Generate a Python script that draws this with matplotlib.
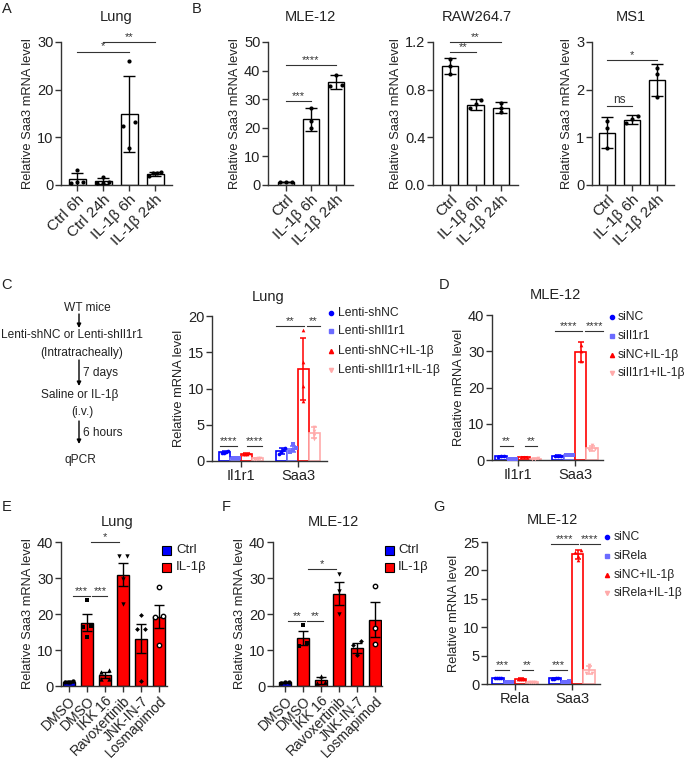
import numpy as np
import matplotlib
matplotlib.use("Agg")
import matplotlib.pyplot as plt

plt.rcParams['font.family'] = ['Liberation Sans', 'DejaVu Sans']

# ---------------- data ----------------
# Panel A (Lung)
a_cats = ['Ctrl 6h', 'Ctrl 24h', 'IL-1β 6h', 'IL-1β 24h']
a_mean = [1.2, 0.8, 14.9, 2.3]
a_sd = [1.4, 0.6, 7.9, 0.35]
a_pts = [[3.1, 0.6, 0.6, 0.5], [1.7, 0.7, 0.5, 0.4], [26.1, 13.2, 12.4, 7.7], [2.7, 2.5, 2.5, 1.9]]
a_sig = [(0, 2, 28.0, '*'), (1, 3, 29.9, '**')]

# Panel B
b_cats = ['Ctrl', 'IL-1β 6h', 'IL-1β 24h']
mle_mean = [1.0, 23.0, 36.0]
mle_sd = [0.1, 4.0, 2.5]
mle_pts = [[1.0, 1.0, 1.0], [26.8, 22.3, 20.0], [38.5, 35.0, 34.5]]
mle_sig = [(0, 1, 29.4, '***'), (0, 2, 41.9, '****')]

raw_mean = [1.0, 0.675, 0.65]
raw_sd = [0.065, 0.045, 0.045]
raw_pts = [[1.055, 0.995, 0.933], [0.71, 0.68, 0.645], [0.69, 0.65, 0.61]]
raw_sig = [(0, 1, 1.115, '**'), (0, 2, 1.196, '**')]

ms1_mean = [1.1, 1.37, 2.2]
ms1_sd = [0.32, 0.09, 0.33]
ms1_pts = [[1.35, 1.2, 0.78], [1.45, 1.38, 1.3], [2.45, 2.33, 1.84]]
ms1_sig = [(0, 1, 1.65, 'ns'), (0, 2, 2.62, '*')]

# Panel C (Lung, grouped)
c_groups = ['Il1r1', 'Saa3']
c_series = ['Lenti-shNC', 'Lenti-shIl1r1', 'Lenti-shNC+IL-1β', 'Lenti-shIl1r1+IL-1β']
c_mean = [[1.2, 1.4], [0.4, 1.7], [0.95, 12.7], [0.35, 3.9]]
c_err = [[0.15, 0.4], [0.06, 0.4], [0.1, 4.3], [0.06, 0.75]]
c_pts = [[[1.35, 1.25, 1.15, 1.1], [1.8, 1.5, 1.3, 1.0]],
         [[0.45, 0.4, 0.38, 0.35], [2.3, 1.8, 1.5, 1.3]],
         [[1.05, 0.95, 0.9, 0.9], [18.1, 13.7, 10.4, 8.3]],
         [[0.4, 0.35, 0.32, 0.3], [4.7, 4.2, 3.6, 3.0]]]
# (group, x-start, x-end relative to group centre, y, label)
c_sig = [(0, -0.37, -0.07, 2.0, '****'), (0, 0.10, 0.37, 2.0, '****'),
         (1, -0.39, 0.10, 18.6, '**'), (1, 0.16, 0.39, 18.6, '**')]

# Panel D (MLE-12, grouped)
d_groups = ['Il1r1', 'Saa3']
d_series = ['siNC', 'siIl1r1', 'siNC+IL-1β', 'siIl1r1+IL-1β']
d_mean = [[1.0, 1.1], [0.3, 1.4], [0.8, 29.7], [0.4, 3.3]]
d_err = [[0.1, 0.15], [0.05, 0.1], [0.1, 2.8], [0.05, 0.7]]
d_pts = [[[1.1, 1.0, 0.95], [1.2, 1.1, 1.0]],
         [[0.35, 0.3, 0.28], [1.5, 1.4, 1.3]],
         [[0.9, 0.8, 0.75], [31.6, 30.2, 27.2]],
         [[0.45, 0.4, 0.35], [4.1, 3.0, 2.8]]]
d_sig = [(0, -0.32, -0.09, 3.9, '**'), (0, 0.12, 0.33, 3.9, '**'),
         (1, -0.35, 0.12, 35.6, '****'), (1, 0.18, 0.49, 35.6, '****')]

# Panel E (Lung inhibitors)
e_cats = ['DMSO', 'DMSO', 'IKK 16', 'Ravoxertinib', 'JNK-IN-7', 'Losmapimod']
e_treat = ['Ctrl', 'IL-1β', 'IL-1β', 'IL-1β', 'IL-1β', 'IL-1β']
e_mean = [1.2, 17.6, 3.0, 30.9, 13.1, 19.3]
e_sem = [0.15, 2.3, 0.9, 3.2, 4.0, 3.3]
e_pts = [[1.3, 1.2, 1.1, 1.0], [23.9, 16.7, 16.5, 13.7], [4.4, 3.9, 2.0, 2.0],
         [36.2, 36.2, 29.7, 22.7], [19.7, 15.7, 15.7, 1.4], [27.4, 19.4, 19.1, 11.3]]
e_sig = [(0.2, 1.17, 25.1, '***'), (1.3, 2.13, 25.1, '***'), (1.22, 2.8, 39.9, '*')]

# Panel F (MLE-12 inhibitors)
f_cats = ['DMSO', 'DMSO', 'IKK 16', 'Ravoxertinib', 'JNK-IN-7', 'Losmapimod']
f_treat = ['Ctrl', 'IL-1β', 'IL-1β', 'IL-1β', 'IL-1β', 'IL-1β']
f_mean = [1.0, 13.3, 1.6, 25.6, 10.6, 18.4]
f_sem = [0.1, 1.9, 1.0, 3.2, 1.3, 4.9]
f_pts = [[1.1, 1.0, 0.9], [17.0, 11.9, 11.0], [2.8, 1.2, 0.9],
         [31.2, 26.3, 20.0], [12.4, 11.4, 8.7], [27.9, 16.0, 11.7]]
f_sig = [(0.19, 1.13, 18.1, '**'), (1.22, 2.09, 18.1, '**'), (1.26, 2.83, 32.6, '*')]

# Panel G (MLE-12, Rela)
g_groups = ['Rela', 'Saa3']
g_series = ['siNC', 'siRela', 'siNC+IL-1β', 'siRela+IL-1β']
g_mean = [[1.05, 1.0], [0.35, 0.4], [0.9, 22.8], [0.35, 2.5]]
g_err = [[0.08, 0.08], [0.05, 0.05], [0.08, 0.8], [0.05, 0.7]]
g_pts = [[[1.1, 1.05, 1.0, 1.0], [1.05, 1.0, 0.95, 0.95]],
         [[0.4, 0.35, 0.32, 0.3], [0.45, 0.4, 0.38, 0.35]],
         [[0.95, 0.9, 0.88, 0.85], [23.6, 23.3, 22.5, 21.8]],
         [[0.4, 0.35, 0.32, 0.3], [3.4, 2.8, 2.0, 1.9]]]
g_sig = [(0, -0.35, -0.10, 2.5, '***'), (0, 0.12, 0.32, 2.5, '**'),
         (1, -0.39, -0.09, 2.5, '***'),
         (1, -0.37, 0.10, 24.7, '****'), (1, 0.14, 0.49, 24.7, '****')]

flow_steps = ['WT mice', 'Lenti-shNC or Lenti-shIl1r1', '(Intratracheally)',
              'Saline or IL-1β', '(i.v.)', 'qPCR']
flow_arrows = ['', '7 days', '6 hours']

# ---------------- style ----------------
W, H = 685, 761
fig = plt.figure(figsize=(W / 100, H / 100), dpi=100)
ov = fig.add_axes([0, 0, 1, 1])
ov.set_xlim(0, W)
ov.set_ylim(H, 0)
ov.axis('off')

BLUE = '#0000FF'
LBLUE = '#6B6BFF'
RED = '#FF0000'
PINK = '#FFAAAA'
grp_colors = [BLUE, LBLUE, RED, PINK]
grp_markers = ['o', 's', '^', 'v']
LW = 1.0
TXT = '#222222'


def px_ax(x0, y0, x1, y1):
    return fig.add_axes([x0 / W, 1 - y1 / H, (x1 - x0) / W, (y1 - y0) / H])


def style(ax, ymax, yticks, ylabel, fs_tick=10.5):
    for s in ['top', 'right']:
        ax.spines[s].set_visible(False)
    for s in ['left', 'bottom']:
        ax.spines[s].set_linewidth(LW)
        ax.spines[s].set_color('#333333')
    ax.set_ylim(0, ymax)
    ax.set_yticks(yticks)
    ax.tick_params(direction='out', length=4, width=LW, labelsize=fs_tick, pad=1.5,
                   color='#333333', labelcolor=TXT)
    ax.set_ylabel(ylabel, fontsize=9.3, labelpad=2, color=TXT)
    ax.patch.set_alpha(0)


def spread(vals, tol, width):
    vals = np.asarray(vals, float)
    offs = np.zeros(len(vals))
    order = np.argsort(vals)
    clusters = [[order[0]]]
    for i in order[1:]:
        if vals[i] - vals[clusters[-1][-1]] < tol:
            clusters[-1].append(i)
        else:
            clusters.append([i])
    for c in clusters:
        k = len(c)
        if k > 1:
            o = np.linspace(-width / 2, width / 2, k)
            for j, i in enumerate(c):
                offs[i] = o[j]
    return offs


def sig_lines(ax, sigs):
    for x1, x2, y, t in sigs:
        ax.plot([x1, x2], [y, y], color='#333333', lw=0.8, clip_on=False, zorder=5)
        ax.text((x1 + x2) / 2, y, t, ha='center', va='bottom', fontsize=8 if t != 'ns' else 8.5,
                color='#333333', clip_on=False)


def simple_panel(box, cats, mean, sd, pts, ymax, yticks, sigs, xl, fmt=None):
    ax = px_ax(*box)
    x = np.arange(len(cats))
    ax.bar(x, mean, width=0.66, color='white', edgecolor='black', lw=LW, zorder=2)
    ax.errorbar(x, mean, yerr=sd, fmt='none', ecolor='black', elinewidth=LW, capsize=4,
                capthick=LW, zorder=3)
    for i, p in enumerate(pts):
        ax.scatter(i + spread(p, ymax * 0.03, 0.45), p, s=9, color='black', zorder=4,
                   clip_on=False, linewidths=0)
    sig_lines(ax, sigs)
    style(ax, ymax, yticks, 'Relative Saa3 mRNA level')
    if fmt:
        ax.set_yticklabels([fmt % v for v in yticks])
    ax.set_xlim(*xl)
    ax.set_xticks(x)
    ax.set_xticklabels(cats, rotation=45, ha='right', rotation_mode='anchor', fontsize=11)
    return ax


def grouped_panel(box, groups, mean, err, pts, ymax, yticks, sigs, xl, w=0.19):
    ax = px_ax(*box)
    ng = len(groups)
    ns = len(mean)
    for s in range(ns):
        xs = np.arange(ng) + (s - (ns - 1) / 2) * w
        ax.bar(xs, mean[s], width=w, facecolor='white', edgecolor=grp_colors[s], lw=1.2, zorder=2)
        ax.errorbar(xs, mean[s], yerr=err[s], fmt='none', ecolor=grp_colors[s], elinewidth=1.1,
                    capsize=2.5, capthick=1.1, zorder=3)
        for g in range(ng):
            p = pts[s][g]
            ax.scatter(xs[g] + spread(p, ymax * 0.02, w * 0.55), p, marker=grp_markers[s], s=7,
                       color=grp_colors[s], zorder=4, clip_on=False, linewidths=0)
    sig_lines(ax, [(g + a, g + b, y, t) for g, a, b, y, t in sigs])
    style(ax, ymax, yticks, 'Relative mRNA level')
    ax.set_xlim(*xl)
    ax.set_xticks(np.arange(ng))
    ax.set_xticklabels(groups, fontsize=10.5)
    return ax


def inhib_panel(box, cats, treat, mean, sem, pts, ymax, yticks, sigs, xl):
    ax = px_ax(*box)
    x = np.arange(len(cats))
    cols = [BLUE if t == 'Ctrl' else RED for t in treat]
    ax.bar(x, mean, width=0.68, color=cols, edgecolor='black', lw=LW, zorder=2)
    ax.errorbar(x, mean, yerr=sem, fmt='none', ecolor='black', elinewidth=LW, capsize=3.5,
                capthick=LW, zorder=3)
    mk = ['o', 's', '^', 'v', 'D', 'o']
    for i, p in enumerate(pts):
        fc = 'white' if i == len(pts) - 1 else 'black'
        ax.scatter(i + spread(p, ymax * 0.03, 0.45), p, marker=mk[i], s=10 if mk[i] != 'D' else 6,
                   facecolor=fc, edgecolor='black', linewidths=1.0 if fc == 'white' else 0,
                   zorder=4, clip_on=False)
    sig_lines(ax, sigs)
    style(ax, ymax, yticks, 'Relative Saa3 mRNA level')
    ax.set_xlim(*xl)
    ax.set_xticks(x)
    ax.set_xticklabels(cats, rotation=45, ha='right', rotation_mode='anchor', fontsize=10)
    return ax


# ---------------- Row 1 ----------------
simple_panel((61, 42, 172, 185), a_cats, a_mean, a_sd, a_pts, 30, [0, 10, 20, 30],
             a_sig, (-0.62, 3.65))
simple_panel((268, 42, 353, 185), b_cats, mle_mean, mle_sd, mle_pts, 50, [0, 10, 20, 30, 40, 50],
             mle_sig, (-0.72, 2.68))
simple_panel((433, 42, 518, 185), b_cats, raw_mean, raw_sd, raw_pts, 1.2, [0, 0.4, 0.8, 1.2],
             raw_sig, (-0.67, 2.67), fmt='%.1f')
simple_panel((592, 42, 674, 185), b_cats, ms1_mean, ms1_sd, ms1_pts, 3, [0, 1, 2, 3],
             ms1_sig, (-0.6, 2.68))

# ---------------- Row 2 ----------------
grouped_panel((212, 316, 327, 461), c_groups, c_mean, c_err, c_pts, 20, [0, 5, 10, 15, 20],
              c_sig, (-0.51, 1.51))
grouped_panel((492, 315, 603, 460), d_groups, d_mean, d_err, d_pts, 40, [0, 10, 20, 30, 40],
              d_sig, (-0.46, 1.49), w=0.2)

# ---------------- Row 3 ----------------
inhib_panel((61, 542, 167, 686), e_cats, e_treat, e_mean, e_sem, e_pts, 40, [0, 10, 20, 30, 40],
            e_sig, (-0.44, 5.44))
inhib_panel((273, 542, 382, 686), f_cats, f_treat, f_mean, f_sem, f_pts, 40, [0, 10, 20, 30, 40],
            f_sig, (-0.67, 5.39))
grouped_panel((487, 542, 600, 684), g_groups, g_mean, g_err, g_pts, 25, [0, 5, 10, 15, 20, 25],
              g_sig, (-0.49, 1.49), w=0.2)

# ---------------- overlay text ----------------
for lab, (x, y) in zip('ABCDEFG', [(7, 9), (197, 9), (7, 285), (444, 285), (7, 507), (226, 507), (439, 507)]):
    ov.text(x, y, lab, ha='center', va='center', fontsize=10.5, color=TXT)

titles = [('Lung', 116, 17), ('MLE-12', 310, 17), ('RAW264.7', 477, 17), ('MS1', 631, 17),
          ('Lung', 268, 297), ('MLE-12', 555, 295), ('Lung', 117, 522), ('MLE-12', 333, 522),
          ('MLE-12', 552, 520)]
for t, x, y in titles:
    ov.text(x, y, t, ha='center', va='center', fontsize=10.5, color=TXT)


def group_legend(names, mx, tx, ys):
    for i, (n, y) in enumerate(zip(names, ys)):
        ov.plot([mx], [y], marker=grp_markers[i], color=grp_colors[i], ms=3, ls='none')
        ov.text(tx, y, n, ha='left', va='center', fontsize=8.7, color=TXT)


group_legend(c_series, 331, 338, [313, 331, 351, 370])
group_legend(d_series, 612, 618, [317, 336, 355, 373])
group_legend(g_series, 607, 614, [537, 556, 575, 593])

for lx, tx in [(167, 176), (390, 398)]:
    for (lab, col), y in zip([('Ctrl', BLUE), ('IL-1β', RED)], [550, 567]):
        ov.add_patch(plt.Rectangle((lx - 4.5, y - 4.5), 9, 9, facecolor=col, edgecolor='black', lw=0.8))
        ov.text(tx, y, lab, ha='left', va='center', fontsize=9.5, color=TXT)

# flowchart C
fx = 79
FS = 8.6
ov.text(87, 308, flow_steps[0], ha='center', va='center', fontsize=FS, color=TXT)
ov.text(72, 335, flow_steps[1], ha='center', va='center', fontsize=FS, color=TXT)
ov.text(82, 353, flow_steps[2], ha='center', va='center', fontsize=FS, color=TXT)
ov.text(80, 395, flow_steps[3], ha='center', va='center', fontsize=FS, color=TXT)
ov.text(82, 412, flow_steps[4], ha='center', va='center', fontsize=FS, color=TXT)
ov.text(80, 460, flow_steps[5], ha='center', va='center', fontsize=FS, color=TXT)
for (y0, y1), lab in zip([(314, 328), (360, 386), (421, 444)], flow_arrows):
    ov.annotate('', xy=(fx, y1), xytext=(fx, y0),
                arrowprops=dict(arrowstyle='-|>', color='black', lw=1.0, mutation_scale=6,
                                shrinkA=0, shrinkB=0))
    if lab:
        ov.text(fx + 4, (y0 + y1) / 2, lab, ha='left', va='center', fontsize=FS, color=TXT)

fig.savefig('out.png', dpi=100)
